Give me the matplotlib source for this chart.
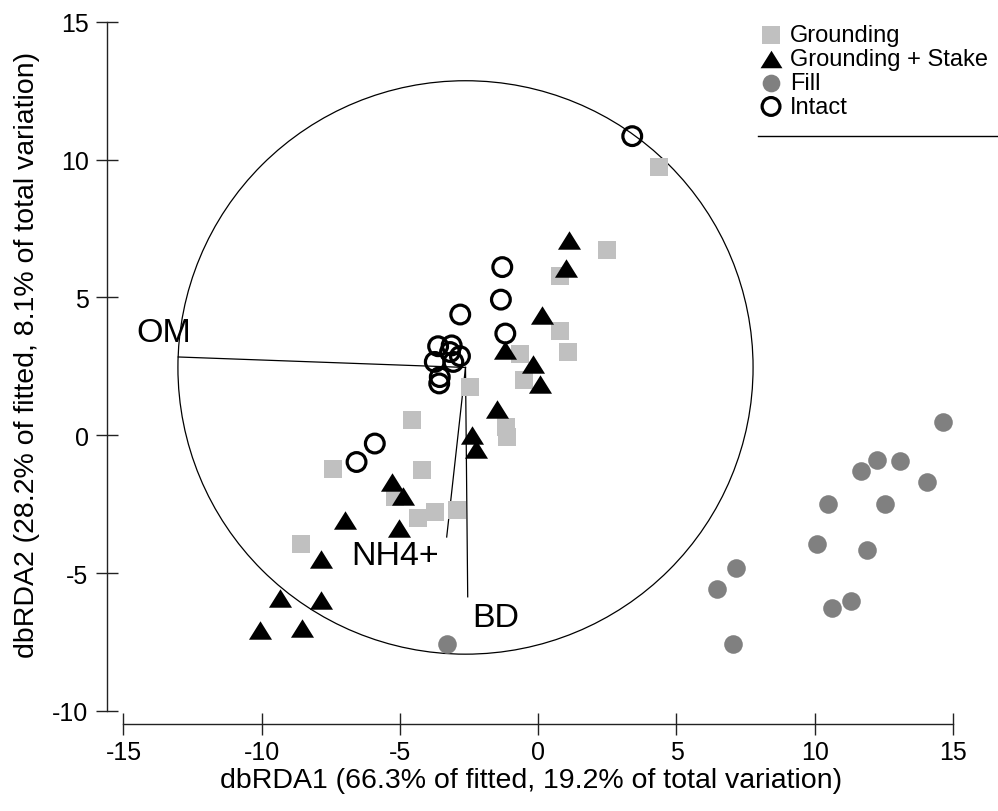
import numpy as np
import matplotlib.pyplot as plt
from matplotlib.lines import Line2D
from matplotlib.patches import Circle

plt.rcParams['font.family'] = ['Liberation Sans', 'DejaVu Sans']
plt.rcParams['axes.unicode_minus'] = False

# dbRDA scores
grounding_x = [4.35, 2.50, 0.78, 0.77, 1.08, -0.66, -0.50, -2.45, -1.18, -1.14,
               -4.58, -7.41, -4.19, -5.18, -4.34, -3.74, -2.95, -8.58]
grounding_y = [9.73, 6.73, 5.77, 3.78, 3.02, 2.96, 1.99, 1.76, 0.29, -0.08,
               0.54, -1.21, -1.27, -2.24, -2.99, -2.80, -2.70, -3.93]

stake_x = [1.10, 0.99, 0.14, -1.20, -0.18, 0.06, -1.50, -2.39, -2.25, -5.30,
           -4.88, -6.99, -5.04, -7.87, -9.34, -7.87, -10.07, -8.56]
stake_y = [7.08, 6.05, 4.35, 3.08, 2.57, 1.87, 0.97, 0.00, -0.48, -1.69,
           -2.21, -3.08, -3.35, -4.47, -5.92, -5.96, -7.05, -6.99]

fill_x = [14.63, 12.26, 13.08, 11.67, 14.05, 10.47, 12.55, 10.07, 11.89, 7.14,
          6.47, 11.32, 10.63, 7.05, -3.31]
fill_y = [0.48, -0.88, -0.93, -1.31, -1.69, -2.51, -2.51, -3.93, -4.15, -4.81,
          -5.56, -6.02, -6.25, -7.56, -7.56]

intact_x = [3.40, -1.30, -1.35, -2.82, -1.19, -3.62, -3.13, -3.19, -2.83, -3.07,
            -3.74, -3.56, -3.58, -5.91, -6.57]
intact_y = [10.85, 6.10, 4.92, 4.38, 3.69, 3.23, 3.26, 3.02, 2.87, 2.66,
            2.66, 2.11, 1.88, -0.30, -0.97]

# vector overlay (origin, end points, label positions)
vec_origin = (-2.63, 2.46)
vec_names = ['OM', 'NH4+', 'BD']
vec_end_x = [-13.02, -3.31, -2.55]
vec_end_y = [2.84, -3.69, -5.86]
vec_label_x = [-14.55, -6.75, -2.38]
vec_label_y = [3.72, -4.35, -6.62]
circle_radius = 10.4

fig = plt.figure(figsize=(9.98, 8.12), dpi=100)
ax = fig.add_axes([0.1237, 0.1232, 0.8312, 0.8488])

tri = [(0, 0.8), (-1, -0.8), (1, -0.8)]

ax.scatter(grounding_x, grounding_y, marker='s', s=13.5**2, color='#c0c0c0',
           linewidths=0, label='Grounding', zorder=3, clip_on=False)
ax.scatter(stake_x, stake_y, marker=tri, s=16.6**2, color='black',
           linewidths=0, label='Grounding + Stake', zorder=4, clip_on=False)
ax.scatter(fill_x, fill_y, marker='o', s=13.4**2, color='#808080',
           linewidths=0, label='Fill', zorder=3, clip_on=False)
ax.scatter(intact_x, intact_y, marker='o', s=13.5**2, facecolors='none',
           edgecolors='black', linewidths=2.3, label='Intact', zorder=5, clip_on=False)

ax.add_patch(Circle(vec_origin, circle_radius, fill=False, lw=0.9,
                    color='black', zorder=2))
for name, ex, ey, lx, ly in zip(vec_names, vec_end_x, vec_end_y, vec_label_x, vec_label_y):
    ax.plot([vec_origin[0], ex], [vec_origin[1], ey], color='black', lw=0.9, zorder=2)
    ax.text(lx, ly, name, fontsize=24.5, ha='left', va='center')

ax.set_xlim(-15, 15)
ax.set_ylim(-10, 15)
ax.set_xticks([-15, -10, -5, 0, 5, 10, 15])
ax.set_yticks([-10, -5, 0, 5, 10, 15])

for side in ['top', 'right']:
    ax.spines[side].set_visible(False)
ax.spines['left'].set_position(('outward', 11.9))
ax.spines['bottom'].set_position(('outward', 9.4))
for side in ['left', 'bottom']:
    ax.spines[side].set_linewidth(1.0)
    ax.spines[side].set_color('#222222')

ax.tick_params(axis='both', direction='inout', length=16.5, width=1.0,
               color='#222222', labelsize=18)
ax.tick_params(axis='x', pad=3.5)
ax.tick_params(axis='y', pad=5)

ax.set_xlabel('dbRDA1 (66.3% of fitted, 19.2% of total variation)', fontsize=20.5)
ax.set_ylabel('dbRDA2 (28.2% of fitted, 8.1% of total variation)', fontsize=20.5)
ax.xaxis.set_label_coords(0.491, -0.082)
ax.yaxis.set_label_coords(-0.10, 0.518)

leg = ax.legend(loc='upper left', bbox_to_anchor=(761.6 / 998, 1 - 25 / 812),
                bbox_transform=fig.transFigure, frameon=False, fontsize=17,
                handlelength=0.8, handletextpad=0.4, labelspacing=0.08,
                borderpad=0, borderaxespad=0, markerscale=0.95)
fig.add_artist(Line2D([758 / 998, 1.0], [1 - 137 / 812, 1 - 137 / 812],
                      color='black', lw=1.0, transform=fig.transFigure))

fig.savefig('out.png', dpi=100)
